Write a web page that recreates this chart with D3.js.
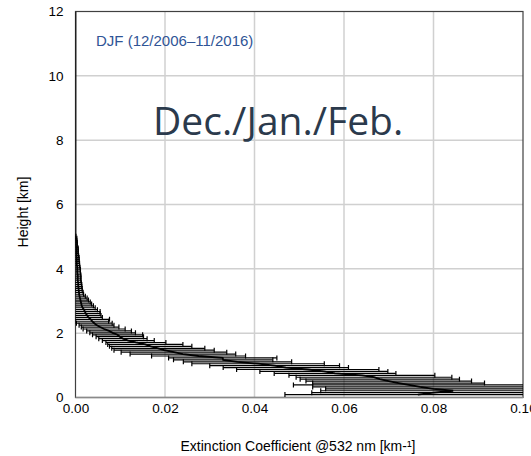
<!DOCTYPE html>
<html>
<head>
<meta charset="utf-8">
<script src="https://cdn.jsdelivr.net/npm/d3@7"></script>
<style>
  body { margin: 0; background: #fff; }
  text { font-family: "Liberation Sans", Arial, sans-serif; }
</style>
</head>
<body>
<svg id="chart" width="531" height="456"></svg>
<script>
// DJF mean extinction profile (60 m bins) with +/- 1 std error bars
var heights = [0.09, 0.15, 0.21, 0.27, 0.33, 0.39, 0.45, 0.51, 0.57, 0.63,
  0.69, 0.75, 0.81, 0.87, 0.93, 0.99, 1.05, 1.11, 1.17, 1.23,
  1.29, 1.35, 1.41, 1.47, 1.53, 1.59, 1.65, 1.71, 1.77, 1.83,
  1.89, 1.95, 2.01, 2.07, 2.13, 2.19, 2.25, 2.31, 2.37, 2.43,
  2.49, 2.55, 2.61, 2.67, 2.73, 2.79, 2.85, 2.91, 2.97, 3.03,
  3.09, 3.15, 3.21, 3.27, 3.33, 3.39, 3.45, 3.51, 3.57, 3.63,
  3.69, 3.75, 3.81, 3.87, 3.93, 3.99, 4.05, 4.11, 4.17, 4.23,
  4.29, 4.35, 4.41, 4.47, 4.53, 4.59, 4.65, 4.71, 4.77, 4.83,
  4.89, 4.95, 5.01, 5.07, 12];
var meanExt = [0.0765, 0.0800, 0.0844, 0.0800, 0.0770, 0.0745, 0.0722, 0.0700, 0.0680, 0.0667,
  0.0640, 0.0580, 0.0555, 0.0519, 0.0470, 0.0445, 0.0408, 0.0362, 0.0330, 0.0329,
  0.0275, 0.0240, 0.0220, 0.0198, 0.0185, 0.0168, 0.0156, 0.0135, 0.0118, 0.0106,
  0.0099, 0.0094, 0.0083, 0.0075, 0.0064, 0.0055, 0.0047, 0.0042, 0.0037, 0.0034,
  0.0029, 0.0026, 0.0023, 0.0021, 0.0019, 0.0016, 0.0014, 0.0013, 0.0012, 0.0011,
  0.0010, 0.0009, 0.0008, 0.0008, 0.0007, 0.0007, 0.0006, 0.0006, 0.0006, 0.0005,
  0.0005, 0.0005, 0.0005, 0.0004, 0.0004, 0.0004, 0.0004, 0.0003, 0.0003, 0.0003,
  0.0003, 0.0003, 0.0002, 0.0002, 0.0002, 0.0002, 0.0002, 0.0001, 0.0001, 0.0001,
  0.0001, 0.0001, 0.0000, 0.0000, 0.0000];
var stdExt = [0.0297, 0.0272, 0.0296, 0.0241, 0.0240, 0.0258, 0.0192, 0.0185, 0.0178, 0.0174,
  0.0163, 0.0136, 0.0143, 0.0159, 0.0140, 0.0145, 0.0148, 0.0121, 0.0111, 0.0121,
  0.0105, 0.0118, 0.0118, 0.0112, 0.0104, 0.0092, 0.0084, 0.0067, 0.0058, 0.0054,
  0.0053, 0.0056, 0.0051, 0.0050, 0.0047, 0.0042, 0.0039, 0.0040, 0.0037, 0.0042,
  0.0031, 0.0031, 0.0032, 0.0034, 0.0030, 0.0028, 0.0026, 0.0023, 0.0021, 0.0018,
  0.0016, 0.0013, 0.0010, 0.0009, 0.0008, 0.0008, 0.0008, 0.0008, 0.0007, 0.0007,
  0.0007, 0.0007, 0.0007, 0.0007, 0.0007, 0.0007, 0.0006, 0.0006, 0.0006, 0.0005,
  0.0005, 0.0005, 0.0005, 0.0004, 0.0004, 0.0004, 0.0004, 0.0003, 0.0003, 0.0003,
  0.0002, 0.0002, 0.0001, 0.0000, 0.0000];
var xTicks = [0, 0.02, 0.04, 0.06, 0.08, 0.10];
var yTicks = [0, 2, 4, 6, 8, 10, 12];

var data = heights.map(function(h, i) {
  return {h: h, mean: meanExt[i], sd: stdExt[i]};
});

var svg = d3.select("#chart");
var margin = {top: 11.5, left: 75.5},
    width = 447.5,
    height = 386;

var x = d3.scaleLinear().domain([0, 0.1]).range([margin.left, margin.left + width]);
var y = d3.scaleLinear().domain([0, 12]).range([margin.top + height, margin.top]);

svg.append("defs").append("clipPath").attr("id", "plotclip")
  .append("rect")
    .attr("x", margin.left).attr("y", margin.top)
    .attr("width", width).attr("height", height);

// grid
svg.append("g").selectAll("line.gx")
  .data(xTicks.slice(1, -1))
  .enter().append("line")
    .attr("x1", function(d) { return x(d); }).attr("x2", function(d) { return x(d); })
    .attr("y1", margin.top).attr("y2", margin.top + height)
    .attr("stroke", "#d0d0d0").attr("stroke-width", 1.5);
svg.append("g").selectAll("line.gy")
  .data(yTicks.slice(1, -1))
  .enter().append("line")
    .attr("y1", function(d) { return y(d); }).attr("y2", function(d) { return y(d); })
    .attr("x1", margin.left).attr("x2", margin.left + width)
    .attr("stroke", "#d0d0d0").attr("stroke-width", 1.5);

// frame
svg.append("rect")
  .attr("x", margin.left).attr("y", margin.top)
  .attr("width", width).attr("height", height)
  .attr("fill", "none").attr("stroke", "#404040").attr("stroke-width", 1.2);
svg.append("line")
  .attr("x1", margin.left).attr("x2", margin.left + width)
  .attr("y1", margin.top + height).attr("y2", margin.top + height)
  .attr("stroke", "#8a8a8a").attr("stroke-width", 1.5);

var plot = svg.append("g").attr("clip-path", "url(#plotclip)");

// error bars
var bars = plot.selectAll("g.err")
  .data(data.filter(function(d) { return d.sd > 0; }))
  .enter().append("g").attr("class", "err")
    .attr("stroke", "#000").attr("stroke-width", 1.2);
bars.append("line")
  .attr("x1", function(d) { return x(d.mean - d.sd); })
  .attr("x2", function(d) { return x(d.mean + d.sd); })
  .attr("y1", function(d) { return y(d.h); })
  .attr("y2", function(d) { return y(d.h); });
bars.append("line")
  .attr("x1", function(d) { return x(d.mean - d.sd); })
  .attr("x2", function(d) { return x(d.mean - d.sd); })
  .attr("y1", function(d) { return y(d.h) - 2.5; })
  .attr("y2", function(d) { return y(d.h) + 2.5; });
bars.append("line")
  .attr("x1", function(d) { return x(d.mean + d.sd); })
  .attr("x2", function(d) { return x(d.mean + d.sd); })
  .attr("y1", function(d) { return y(d.h) - 2.5; })
  .attr("y2", function(d) { return y(d.h) + 2.5; });

// mean profile
var line = d3.line()
  .x(function(d) { return x(d.mean); })
  .y(function(d) { return y(d.h); });
plot.append("path")
  .datum(data)
  .attr("d", line)
  .attr("fill", "none")
  .attr("stroke", "#000")
  .attr("stroke-width", 1.8);

// axes
var xAxis = svg.append("g")
  .attr("transform", "translate(0," + (margin.top + height) + ")")
  .call(d3.axisBottom(x).tickValues(xTicks).tickFormat(d3.format(".2f")).tickSize(0).tickPadding(6));
var yAxis = svg.append("g")
  .attr("transform", "translate(" + margin.left + ",0)")
  .call(d3.axisLeft(y).tickValues(yTicks).tickFormat(d3.format("d")).tickSize(0).tickPadding(12));
[xAxis, yAxis].forEach(function(a) {
  a.select(".domain").remove();
  a.selectAll("text").attr("font-size", 13.5).attr("fill", "#000")
    .attr("font-family", "Liberation Sans, Arial, sans-serif");
});

// titles
svg.append("text")
  .attr("x", 298).attr("y", 451)
  .attr("text-anchor", "middle")
  .attr("font-size", 14)
  .text("Extinction Coefficient @532 nm [km-\u00b9]");
svg.append("text")
  .attr("transform", "translate(28,212) rotate(-90)")
  .attr("text-anchor", "middle")
  .attr("font-size", 14)
  .text("Height [km]");

svg.append("text")
  .attr("x", 96).attr("y", 46)
  .attr("font-size", 15)
  .attr("fill", "#2f5496")
  .text("DJF (12/2006\u201311/2016)");

svg.append("text")
  .attr("x", 153).attr("y", 135)
  .attr("font-size", 39)
  .attr("fill", "#2b3a4c")
  .style("font-family", "'Open Sans', 'Noto Sans', sans-serif")
  .text("Dec./Jan./Feb.");
</script>
</body>
</html>
